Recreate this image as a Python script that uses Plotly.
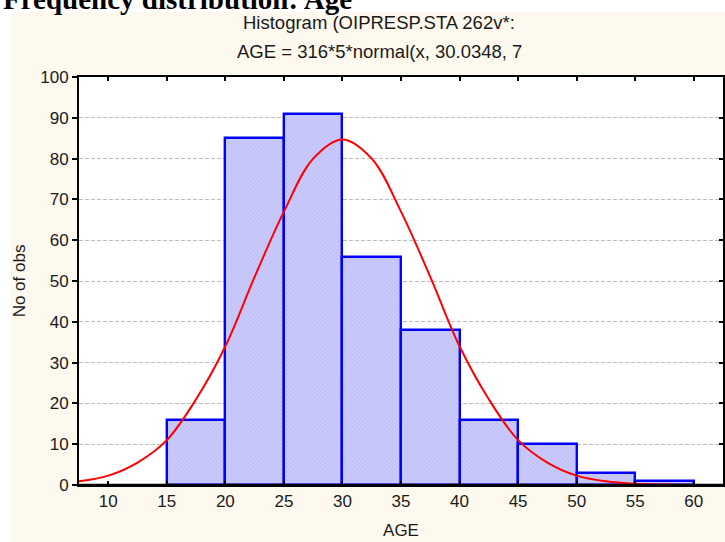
import plotly.graph_objects as go

# Histogram data (bin left edges, width 5)
bin_starts = [15, 20, 25, 30, 35, 40, 45, 50, 55]
counts = [16, 85, 91, 56, 38, 16, 10, 3, 1]
bin_width = 5

# Fitted normal curve
curve_x = [7.5, 10, 12.5, 15, 17.5, 20, 22.5, 25, 27.5, 30, 32.5, 35, 37.5, 40,
           42.5, 45, 47.5, 50, 52.5, 55, 57.5, 60, 62.5]
curve_y = [0.9, 2.3, 5.5, 11, 21, 34, 51, 67, 80, 84.7, 80, 67, 51, 34,
           21, 11, 5.5, 2.3, 0.9, 0.3, 0.1, 0.02, 0.0]

x_ticks = [10, 15, 20, 25, 30, 35, 40, 45, 50, 55, 60]
y_ticks = [0, 10, 20, 30, 40, 50, 60, 70, 80, 90, 100]

title_text = "Frequency distribution: Age"
sub1 = "Histogram (OIPRESP.STA 262v*:"
sub2 = "AGE = 316*5*normal(x, 30.0348, 7"

W, H = 725, 542
L, R, T, B = 79, 2, 77, 57
pw, ph = W - L - R, H - T - B

def px(xp):
    return (xp - L) / pw

def py(yp):
    return (H - B - yp) / ph

CREAM = "#fdf9ef"
FONT = "Arial, Liberation Sans, sans-serif"

fig = go.Figure()
fig.add_trace(go.Bar(
    x=[s + bin_width / 2 for s in bin_starts], y=counts, width=bin_width,
    marker=dict(color="#c0c0f8", line=dict(color="#0000ff", width=2.4),
                pattern=dict(shape="x", size=3, solidity=0.3,
                             fgcolor="#a4a4f0", bgcolor="#cacafb")),
    showlegend=False,
))
fig.add_trace(go.Scatter(
    x=curve_x, y=curve_y, mode="lines", line=dict(color="#ff0000", width=2, shape="spline"),
    showlegend=False, cliponaxis=True,
))
# invisible trace for right axis
fig.add_trace(go.Scatter(x=[7.5], y=[0], yaxis="y2", mode="markers",
                         marker=dict(opacity=0), showlegend=False, hoverinfo="skip"))

fig.update_layout(
    width=W, height=H,
    margin=dict(l=L, r=R, t=T, b=B),
    paper_bgcolor=CREAM, plot_bgcolor="white",
    font=dict(family=FONT, size=17, color="#1a1a1a"),
    bargap=0,
    xaxis=dict(range=[7.5, 62.5], tickvals=x_ticks, ticks="inside", ticklen=4,
               tickwidth=1.5, tickcolor="black", showline=True, linecolor="black",
               linewidth=2, mirror="ticks", showgrid=False, zeroline=False,
               title=dict(text="AGE", font=dict(size=17), standoff=14),
               tickfont=dict(size=17)),
    yaxis=dict(range=[0, 100], tickvals=y_ticks, ticks="outside", ticklen=5,
               tickwidth=1.5, tickcolor="black", showline=True, linecolor="black",
               linewidth=2, showgrid=True, gridcolor="#bdbdbd", griddash="4px,2px",
               gridwidth=1, zeroline=False,
               title=dict(text="No of obs", font=dict(size=17), standoff=10),
               tickfont=dict(size=17)),
    yaxis2=dict(range=[0, 100], tickvals=y_ticks, overlaying="y", side="right",
                ticks="inside", ticklen=4, tickwidth=1.5, tickcolor="black",
                showticklabels=False, showline=True, linecolor="black", linewidth=2,
                showgrid=False, zeroline=False),
    shapes=[
        dict(type="rect", xref="paper", yref="paper", x0=px(-5), x1=px(W + 5),
             y0=py(12), y1=py(-5), fillcolor="white", line=dict(width=0), layer="below"),
        dict(type="rect", xref="paper", yref="paper", x0=px(-5), x1=px(11),
             y0=py(H + 5), y1=py(-5), fillcolor="white", line=dict(width=0), layer="below"),
        dict(type="line", xref="paper", yref="y", x0=0, x1=1, y0=0, y1=0,
             line=dict(color="black", width=2.5)),
    ],
    annotations=[
        dict(text="<b>" + title_text + "</b>", x=px(1), y=py(-1), xref="paper", yref="paper",
             xanchor="left", yanchor="middle", showarrow=False,
             font=dict(family="Liberation Serif, Times New Roman, serif", size=29, color="black")),
        dict(text=sub1, x=px(379), y=py(22), xref="paper", yref="paper",
             xanchor="center", yanchor="middle", showarrow=False, font=dict(size=18.5)),
        dict(text=sub2, x=px(379), y=py(51), xref="paper", yref="paper",
             xanchor="center", yanchor="middle", showarrow=False, font=dict(size=18.5)),
    ],
)

fig.write_html("out.html", config={"displayModeBar": False},
               post_script="document.body.style.margin='0';")
